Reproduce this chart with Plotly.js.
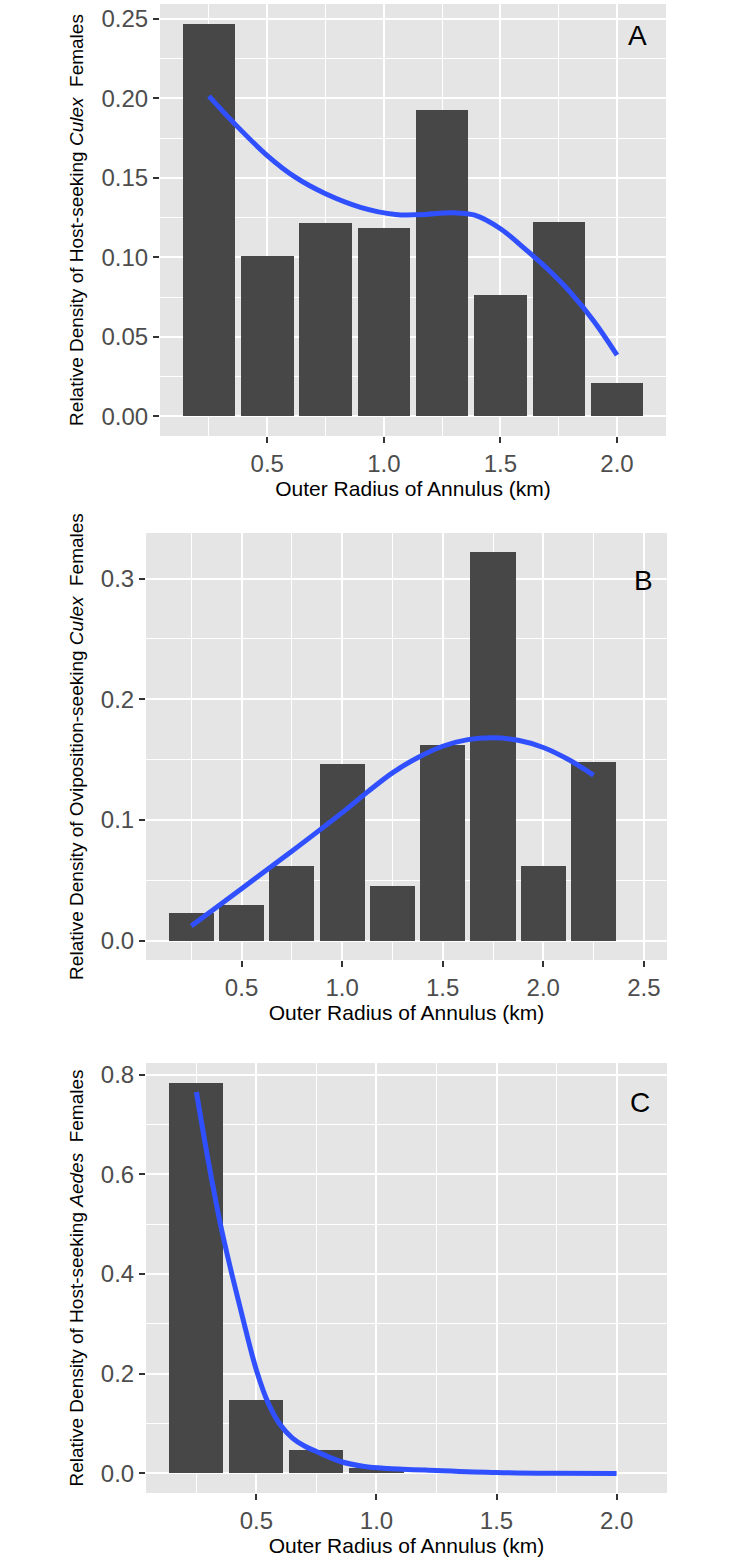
<!DOCTYPE html>
<html>
<head>
<meta charset="utf-8">
<script src="https://cdn.plot.ly/plotly-3.0.1.min.js"></script>
<style>
  html, body { margin: 0; padding: 0; background: #fff; }
  #chart { width: 733px; height: 1565px; }
</style>
</head>
<body>
<div id="chart"></div>
<script>
// ---------- Data ----------
// Panel A: host-seeking Culex
const barXA = [0.25, 0.5, 0.75, 1.0, 1.25, 1.5, 1.75, 2.0];
const barYA = [0.247, 0.101, 0.1215, 0.1186, 0.1925, 0.0762, 0.122, 0.0213];
const smoothXA = [0.25, 0.36, 0.5, 0.62, 0.75, 0.9, 1.05, 1.15, 1.3, 1.39, 1.5, 1.6, 1.7, 1.8, 1.9, 2.0];
const smoothYA = [0.2014, 0.184, 0.164, 0.1504, 0.140, 0.1315, 0.127, 0.1268, 0.128, 0.1265, 0.118, 0.106, 0.093, 0.078, 0.060, 0.0385];

// Panel B: oviposition-seeking Culex
const barXB = [0.25, 0.5, 0.75, 1.0, 1.25, 1.5, 1.75, 2.0, 2.25];
const barYB = [0.0232, 0.0295, 0.0621, 0.1463, 0.0453, 0.1617, 0.3216, 0.0621, 0.148];
const smoothXB = [0.25, 0.5, 0.75, 1.0, 1.125, 1.25, 1.375, 1.5, 1.625, 1.75, 1.875, 2.0, 2.125, 2.25];
const smoothYB = [0.012, 0.043, 0.074, 0.106, 0.123, 0.139, 0.1515, 0.161, 0.1665, 0.168, 0.166, 0.160, 0.150, 0.137];

// Panel C: host-seeking Aedes
const barXC = [0.25, 0.5, 0.75, 1.0];
const barYC = [0.783, 0.1476, 0.0479, 0.0106];
const smoothXC = [0.25, 0.3, 0.35, 0.4, 0.45, 0.5, 0.55, 0.6, 0.65, 0.7, 0.75, 0.85, 0.95, 1.05, 1.25, 1.5, 1.75, 2.0];
const smoothYC = [0.765, 0.625, 0.5, 0.395, 0.298, 0.207, 0.14, 0.097, 0.071, 0.055, 0.044, 0.024, 0.014, 0.010, 0.006, 0.002, 0.0005, 0.0];

const xTitle = "Outer Radius of Annulus (km)";
const yTitleA = "Relative Density of Host-seeking <i>Culex</i>  Females";
const yTitleB = "Relative Density of Oviposition-seeking <i>Culex</i>  Females";
const yTitleC = "Relative Density of Host-seeking <i>Aedes</i>  Females";
const panelLabels = ["A", "B", "C"];

// ---------- Styling ----------
const FONT = "Liberation Sans, Arial, Helvetica, sans-serif";
const BAR_COLOR = "#474747";
const LINE_COLOR = "#3050FF";
const BAR_WIDTH = 0.225;

function barTrace(x, y, xa, ya) {
  return { type: "bar", x: x, y: y, xaxis: xa, yaxis: ya, width: BAR_WIDTH,
           marker: { color: BAR_COLOR, line: { width: 0 } }, hoverinfo: "x+y", showlegend: false };
}
function lineTrace(x, y, xa, ya) {
  return { type: "scatter", mode: "lines", x: x, y: y, xaxis: xa, yaxis: ya,
           line: { color: LINE_COLOR, width: 5, shape: "spline", smoothing: 1.0 },
           hoverinfo: "x+y", showlegend: false };
}

const data = [
  barTrace(barXA, barYA, "x", "y"), lineTrace(smoothXA, smoothYA, "x", "y"),
  barTrace(barXB, barYB, "x2", "y2"), lineTrace(smoothXB, smoothYB, "x2", "y2"),
  barTrace(barXC, barYC, "x3", "y3"), lineTrace(smoothXC, smoothYC, "x3", "y3")
];

const W = 733, H = 1565;
function xdom(l, r) { return [l / W, r / W]; }
function ydom(top, bottom) { return [1 - bottom / H, 1 - top / H]; }

function xAxis(domain, range, anchor) {
  return {
    domain: domain, range: range, anchor: anchor,
    tick0: 0, dtick: 0.5, tickformat: ".1f",
    ticks: "outside", ticklen: 6, tickwidth: 2, tickcolor: "#333333",
    tickfont: { family: FONT, size: 24, color: "#4D4D4D" },
    showgrid: true, gridcolor: "#FFFFFF", gridwidth: 2,
    minor: { dtick: 0.25, tick0: 0, showgrid: true, gridcolor: "#FFFFFF", gridwidth: 1, ticks: "" },
    zeroline: false, showline: false, automargin: false, fixedrange: true,
    title: { text: xTitle, font: { family: FONT, size: 21, color: "#000000" }, standoff: 3 }
  };
}
function yAxis(domain, range, anchor, dtick, minorDtick, fmt, title) {
  return {
    domain: domain, range: range, anchor: anchor,
    tick0: 0, dtick: dtick, tickformat: fmt,
    ticks: "outside", ticklen: 6, tickwidth: 2, tickcolor: "#333333",
    tickfont: { family: FONT, size: 24, color: "#4D4D4D" },
    showgrid: true, gridcolor: "#FFFFFF", gridwidth: 2,
    minor: { dtick: minorDtick, tick0: 0, showgrid: true, gridcolor: "#FFFFFF", gridwidth: 1, ticks: "" },
    zeroline: false, showline: false, automargin: false, fixedrange: true,
    title: { text: title, font: { family: FONT, size: 19, color: "#000000" }, standoff: 12 }
  };
}

function panelLabel(text, xref, yref, x, y) {
  return { text: text, xref: xref, yref: yref, x: x, y: y, showarrow: false,
           xanchor: "center", yanchor: "middle",
           font: { family: FONT, size: 28, color: "#000000" } };
}

const layout = {
  width: W, height: H,
  margin: { l: 0, r: 0, t: 0, b: 0, pad: 0 },
  paper_bgcolor: "#FFFFFF",
  plot_bgcolor: "#E5E5E5",
  showlegend: false,
  bargap: 0,
  font: { family: FONT },
  xaxis:  xAxis(xdom(160, 666), [0.04, 2.21], "y"),
  yaxis:  yAxis(ydom(4, 436), [-0.0123, 0.2593], "x", 0.05, 0.025, ".2f", yTitleA),
  xaxis2: xAxis(xdom(146, 667), [0.025, 2.615], "y2"),
  yaxis2: yAxis(ydom(533, 960), [-0.0161, 0.3377], "x2", 0.1, 0.05, ".1f", yTitleB),
  xaxis3: xAxis(xdom(146, 667), [0.04, 2.21], "y3"),
  yaxis3: yAxis(ydom(1063, 1493), [-0.0392, 0.8232], "x3", 0.2, 0.1, ".1f", yTitleC),
  annotations: [
    panelLabel(panelLabels[0], "x domain", "y domain", 0.944, 0.928),
    panelLabel(panelLabels[1], "x2 domain", "y2 domain", 0.955, 0.888),
    panelLabel(panelLabels[2], "x3 domain", "y3 domain", 0.948, 0.908)
  ]
};

Plotly.newPlot("chart", data, layout, { staticPlot: true, displayModeBar: false });
</script>
</body>
</html>
